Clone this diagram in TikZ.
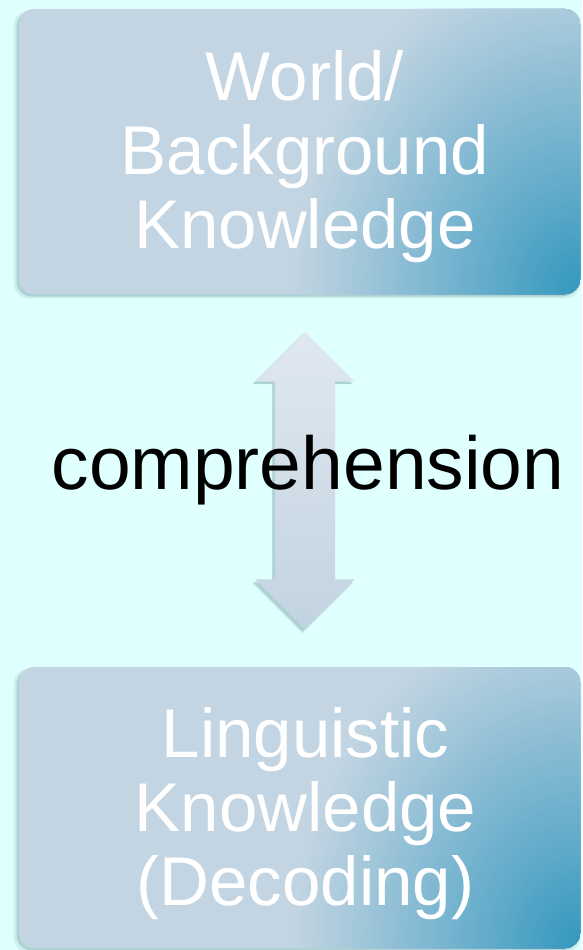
\documentclass[tikz,border=0pt]{standalone}
\usepackage{fontspec}
\setmainfont{Liberation Sans}
\usetikzlibrary{shapes.arrows, shadows, calc}

\definecolor{bgcyan}{HTML}{E0FFFF}
\definecolor{boxlight}{HTML}{C3D5E2}
\definecolor{boxdark}{HTML}{3397BE}
\definecolor{arrowtop}{HTML}{E0E8F0}
\definecolor{arrowbot}{HTML}{C2D3E0}
\definecolor{shadowcol}{HTML}{4F7F82}

\tikzset{
  softshadow/.style={general shadow={fill=shadowcol, opacity=.12, shadow xshift=-2.5pt, shadow yshift=-3pt, shadow scale=1.01},
                     general shadow={fill=shadowcol, opacity=.25, shadow xshift=-2.5pt, shadow yshift=-2.5pt}},
  knowbox/.style={rounded corners=15pt, fill=boxlight, minimum width=561pt, inner sep=0pt, softshadow,
                  path picture={
                    \foreach \i in {0,...,59} {
                      \pgfmathsetmacro\pct{100*\i/60}
                      \pgfmathsetmacro\rr{1-\i/60}
                      \fill[boxdark!\pct!boxlight] (path picture bounding box.south east) ellipse [x radius=291*\rr, y radius=345*\rr];
                    }}},
  boxtext/.style={text=white, align=center, font=\fontsize{69}{74}\selectfont},
}

\begin{document}
\begin{tikzpicture}[x=1pt, y=-1pt]
    \fill[bgcyan] (0,0) rectangle (582,950);
    \useasboundingbox (0,0) rectangle (582,950);

    \node[knowbox, minimum height=285pt] (world) at (299.5, 151.5) {};
    \node[knowbox, minimum height=281pt] (ling) at (299.5, 807.5) {};
    \node[boxtext] (worldtext) at ($(world.center) + (5.5, 5)$) {World/\\Background\\Knowledge};
    \node[boxtext] (lingtext) at ($(ling.center) + (6, 6)$) {Linguistic\\Knowledge\\(Decoding)};

    % block arrow between the boxes
    \node[double arrow, shape border rotate=90, minimum height=297pt, minimum width=99pt,
          double arrow head extend=19.5pt, inner sep=30pt, top color=arrowtop, bottom color=arrowbot, softshadow]
          (link) at ($(world.south)!0.5!(ling.north) + (5.5,0)$) {};

    \node[font=\fontsize{75}{80}\selectfont, anchor=base] (comp) at (308, 489) {comprehension};
\end{tikzpicture}
\end{document}
